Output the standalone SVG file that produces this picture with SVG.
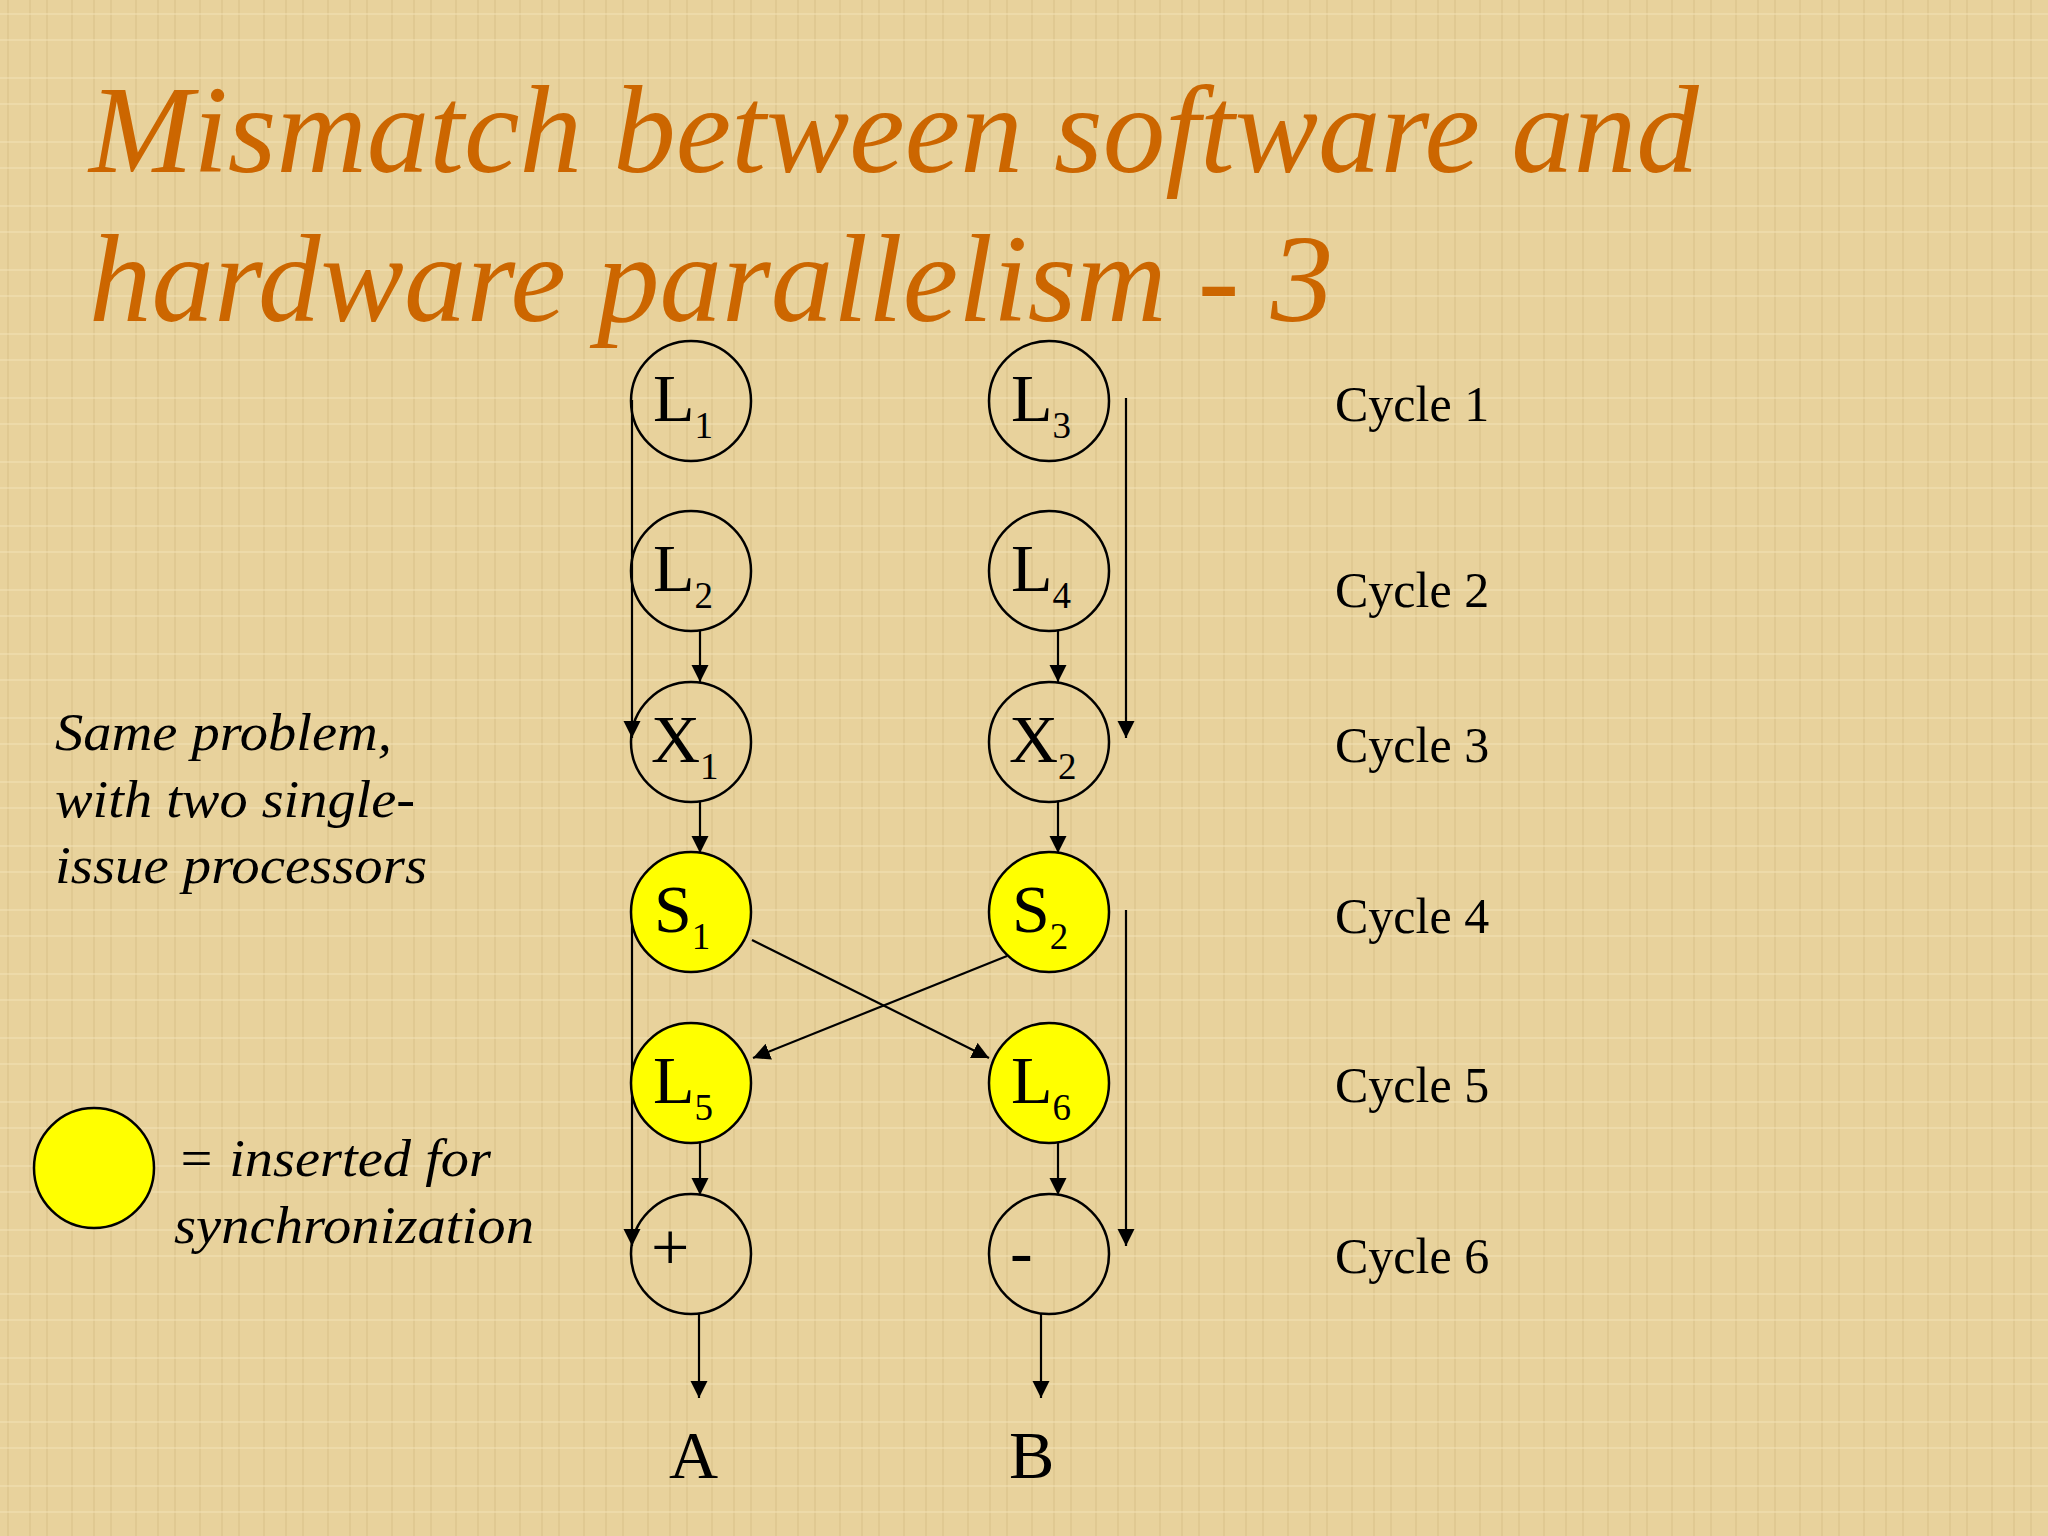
<svg xmlns="http://www.w3.org/2000/svg" width="2048" height="1536" viewBox="0 0 2048 1536">
<defs>
<style>
.node{stroke:#000;stroke-width:2.5;fill:none}
.sync{fill:#FFFF00}
.lbl{font-family:"Liberation Serif","Times New Roman",serif;font-size:68px;fill:#000}
.sub{font-size:37px}
.cyc{font-family:"Liberation Serif","Times New Roman",serif;font-size:50px;fill:#000}
.note{font-family:"Liberation Serif","Times New Roman",serif;font-style:italic;font-size:53px;fill:#000}
.title{font-family:"Liberation Serif","Times New Roman",serif;font-style:italic;font-size:125px;fill:#CC6600}
.edge{stroke:#000;stroke-width:2.2;fill:none;marker-end:url(#arr)}
</style>
<marker id="arr" markerUnits="userSpaceOnUse" markerWidth="20" markerHeight="20" refX="17" refY="8.5" orient="auto">
<path d="M0,0 L17,8.5 L0,17 z" fill="#000"/>
</marker>
<pattern id="tex" width="64" height="64" patternUnits="userSpaceOnUse">
<rect width="64" height="64" fill="#E8D29C"/>
<path d="M8,0 V64 M30,0 V64 M47,0 V64" stroke="#D8C088" stroke-width="2" opacity="0.5"/>
<path d="M0,14 H64 M0,40 H64" stroke="#F2E2B6" stroke-width="2" opacity="0.5"/>
</pattern>
</defs>
<rect width="2048" height="1536" fill="url(#tex)"/>

<g id="title">
<text class="title" x="89" y="172">Mismatch between software and</text>
<text class="title" x="89" y="321">hardware parallelism - 3</text>
</g>

<g id="note">
<text class="note" x="55" y="750" textLength="337" lengthAdjust="spacingAndGlyphs">Same problem,</text>
<text class="note" x="55" y="817" textLength="360" lengthAdjust="spacingAndGlyphs">with two single-</text>
<text class="note" x="55" y="883" textLength="372" lengthAdjust="spacingAndGlyphs">issue processors</text>
</g>

<g id="legend">
<circle cx="94" cy="1168" r="60" class="node sync"/>
<text class="note" x="177" y="1176" textLength="314" lengthAdjust="spacingAndGlyphs">= inserted for</text>
<text class="note" x="174" y="1243" textLength="360" lengthAdjust="spacingAndGlyphs">synchronization</text>
</g>

<g id="connectors">
<line class="edge" x1="632" y1="400" x2="632" y2="738"/>
<line class="edge" x1="700" y1="630" x2="700" y2="682"/>
<line class="edge" x1="700" y1="801" x2="700" y2="853"/>
<line class="edge" x1="752" y1="940" x2="989" y2="1058"/>
<line class="edge" x1="1007" y1="956" x2="753" y2="1058"/>
<line class="edge" x1="632" y1="912" x2="632" y2="1246"/>
<line class="edge" x1="700" y1="1142" x2="700" y2="1195"/>
<line class="edge" x1="699" y1="1313" x2="699" y2="1398"/>
<line class="edge" x1="1126" y1="398" x2="1126" y2="738"/>
<line class="edge" x1="1058" y1="630" x2="1058" y2="682"/>
<line class="edge" x1="1058" y1="801" x2="1058" y2="853"/>
<line class="edge" x1="1126" y1="910" x2="1126" y2="1246"/>
<line class="edge" x1="1058" y1="1142" x2="1058" y2="1195"/>
<line class="edge" x1="1041" y1="1313" x2="1041" y2="1398"/>
</g>

<g id="L1"><circle cx="691" cy="401" r="60" class="node"/><text class="lbl" x="653" y="421">L<tspan class="sub" dy="17">1</tspan></text></g>
<g id="L2"><circle cx="691" cy="571" r="60" class="node"/><text class="lbl" x="653" y="591">L<tspan class="sub" dy="17">2</tspan></text></g>
<g id="X1"><circle cx="691" cy="742" r="60" class="node"/><text class="lbl" x="651" y="762">X<tspan class="sub" dy="17">1</tspan></text></g>
<g id="S1"><circle cx="691" cy="912" r="60" class="node sync"/><text class="lbl" x="654" y="932">S<tspan class="sub" dy="17">1</tspan></text></g>
<g id="L5"><circle cx="691" cy="1083" r="60" class="node sync"/><text class="lbl" x="653" y="1103">L<tspan class="sub" dy="17">5</tspan></text></g>
<g id="plus"><circle cx="691" cy="1254" r="60" class="node"/><text class="lbl" x="651" y="1270">+</text></g>

<g id="L3"><circle cx="1049" cy="401" r="60" class="node"/><text class="lbl" x="1011" y="421">L<tspan class="sub" dy="17">3</tspan></text></g>
<g id="L4"><circle cx="1049" cy="571" r="60" class="node"/><text class="lbl" x="1011" y="591">L<tspan class="sub" dy="17">4</tspan></text></g>
<g id="X2"><circle cx="1049" cy="742" r="60" class="node"/><text class="lbl" x="1009" y="762">X<tspan class="sub" dy="17">2</tspan></text></g>
<g id="S2"><circle cx="1049" cy="912" r="60" class="node sync"/><text class="lbl" x="1012" y="932">S<tspan class="sub" dy="17">2</tspan></text></g>
<g id="L6"><circle cx="1049" cy="1083" r="60" class="node sync"/><text class="lbl" x="1011" y="1103">L<tspan class="sub" dy="17">6</tspan></text></g>
<g id="minus"><circle cx="1049" cy="1254" r="60" class="node"/><text class="lbl" x="1010" y="1274">-</text></g>

<g id="A"><text class="lbl" x="669" y="1478">A</text></g>
<g id="B"><text class="lbl" x="1009" y="1478">B</text></g>

<g id="cycles">
<text class="cyc" x="1335" y="421">Cycle 1</text>
<text class="cyc" x="1335" y="607">Cycle 2</text>
<text class="cyc" x="1335" y="762">Cycle 3</text>
<text class="cyc" x="1335" y="933">Cycle 4</text>
<text class="cyc" x="1335" y="1102">Cycle 5</text>
<text class="cyc" x="1335" y="1273">Cycle 6</text>
</g>
</svg>
